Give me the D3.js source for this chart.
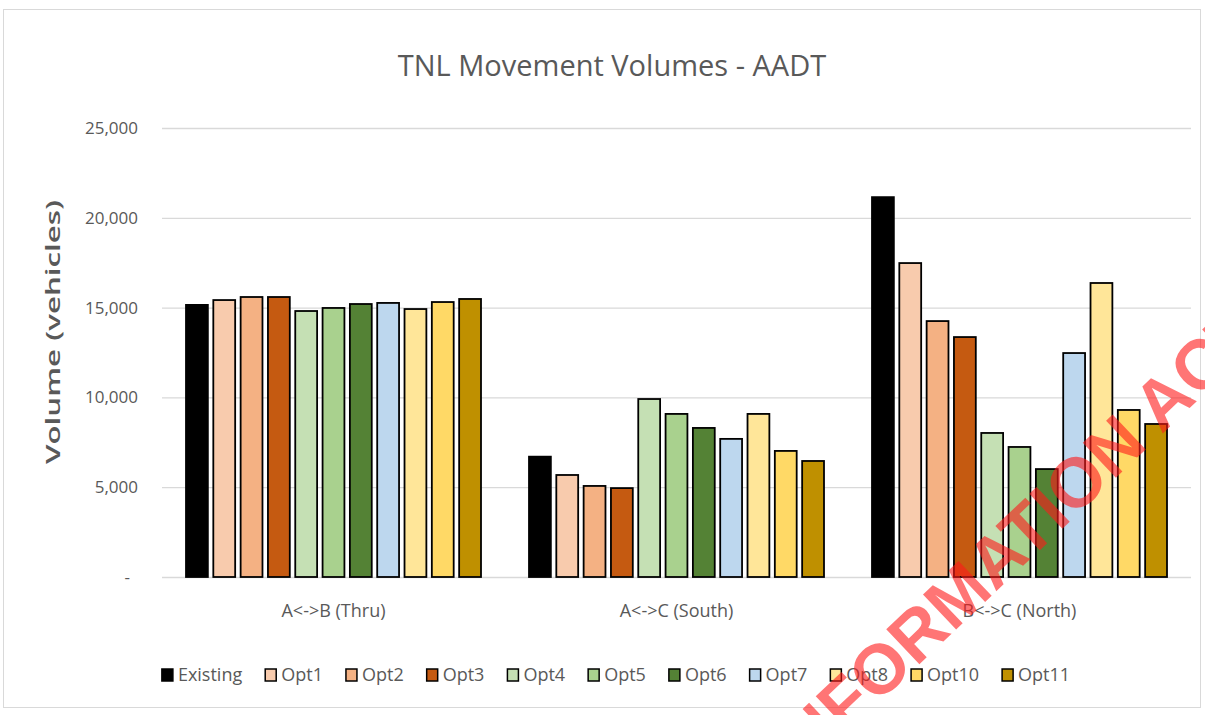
<!DOCTYPE html>
<html>
<head>
<meta charset="utf-8">
<script src="https://cdn.jsdelivr.net/npm/d3@7"></script>
<style>
  body { margin: 0; background: #fff; }
  text { font-family: "Open Sans", sans-serif; }
</style>
</head>
<body>
<svg id="chart" width="1205" height="715"></svg>
<script>
var categories = ["A<->B (Thru)", "A<->C (South)", "B<->C (North)"]
var seriesNames = ["Existing", "Opt1", "Opt2", "Opt3", "Opt4", "Opt5", "Opt6", "Opt7", "Opt8", "Opt10", "Opt11"]

// volumes per movement, in seriesNames order
var thruValues  = [15150, 15420, 15590, 15590, 14810, 14980, 15200, 15260, 14920, 15310, 15480]
var southValues = [6700, 5680, 5070, 4950, 9910, 9080, 8300, 7690, 9080, 7020, 6460]
var northValues = [21150, 17480, 14250, 13360, 8020, 7240, 6010, 12470, 16370, 9300, 8520]

var yTicks = [0, 5000, 10000, 15000, 20000, 25000]

var colors = ["#000000", "#f8cbad", "#f4b183", "#c55a11", "#c5e0b4", "#a9d18e",
              "#548235", "#bdd7ee", "#ffe699", "#ffd966", "#bf9000"]

var valuesByCategory = [thruValues, southValues, northValues]
var dataset = categories.map((c, i) => ({
  category: c,
  values: seriesNames.map((s, j) => ({ series: s, value: valuesByCategory[i][j] }))
}))

var dimensions = ({
  width: 1205,
  height: 715,
  margin: { top: 128, right: 14, bottom: 138, left: 162 }
})

var svg = d3.select("#chart")

// chart border
svg.append("rect")
  .attr("x", 3.5).attr("y", 9.5)
  .attr("width", 1197).attr("height", 698)
  .attr("fill", "#fff")
  .attr("stroke", "#d9d9d9")

var xScale = d3.scaleBand()
  .domain(categories)
  .range([dimensions.margin.left, dimensions.width - dimensions.margin.right])

var xInner = d3.scaleBand()
  .domain(seriesNames)
  .range([24, xScale.bandwidth() - 24])
  .paddingInner(0.2)

var yScale = d3.scaleLinear()
  .domain([0, 25000])
  .range([dimensions.height - dimensions.margin.bottom, dimensions.margin.top])

var colorScale = d3.scaleOrdinal().domain(seriesNames).range(colors)

// y axis with gridlines
var yAxisGen = d3.axisLeft(yScale)
  .tickValues(yTicks)
  .tickSize(-(dimensions.width - dimensions.margin.left - dimensions.margin.right))
  .tickPadding(24)
  .tickFormat(d => d === 0 ? "-" : d3.format(",")(d))

var yAxis = svg.append("g")
  .attr("transform", `translate(${dimensions.margin.left},0)`)
  .call(yAxisGen)
yAxis.select(".domain").remove()
yAxis.selectAll(".tick line").attr("stroke", "#d9d9d9").attr("stroke-width", 1.3)
yAxis.selectAll(".tick text")
  .attr("fill", "#595959")
  .style("font-size", "17px")
  .attr("dx", d => d === 0 ? -8 : 0)

// bars
var groups = svg.append("g")
  .selectAll("g")
  .data(dataset)
  .enter()
  .append("g")
  .attr("transform", d => `translate(${xScale(d.category)},0)`)

groups.selectAll("rect")
  .data(d => d.values)
  .enter()
  .append("rect")
  .attr("x", d => xInner(d.series))
  .attr("y", d => yScale(d.value))
  .attr("width", xInner.bandwidth())
  .attr("height", d => yScale(0) - yScale(d.value))
  .attr("fill", d => colorScale(d.series))
  .attr("stroke", "#000")
  .attr("stroke-width", 1.8)

// category axis
var xAxisGen = d3.axisBottom(xScale).tickSize(0).tickPadding(27)
var xAxis = svg.append("g")
  .attr("transform", `translate(0,${yScale(0)})`)
  .call(xAxisGen)
xAxis.select(".domain").remove()
xAxis.selectAll(".tick text")
  .attr("fill", "#595959")
  .style("font-size", "18px")

// title
svg.append("text")
  .attr("x", 612).attr("y", 76)
  .attr("text-anchor", "middle")
  .attr("fill", "#595959")
  .style("font-size", "29px")
  .text("TNL Movement Volumes - AADT")

// y axis title (stretched like the source image)
svg.append("text")
  .attr("transform", "translate(60,332) rotate(-90)")
  .attr("text-anchor", "middle")
  .attr("fill", "#595959")
  .attr("textLength", 264)
  .attr("lengthAdjust", "spacingAndGlyphs")
  .style("font-size", "20px")
  .style("font-weight", "600")
  .text("Volume (vehicles)")

// legend
var legend = svg.append("g")
var legendX = 0
var legendItems = legend.selectAll("g")
  .data(seriesNames)
  .enter()
  .append("g")

legendItems.append("rect")
  .attr("y", -6).attr("width", 11).attr("height", 12)
  .attr("fill", d => colorScale(d))
  .attr("stroke", "#000")
  .attr("stroke-width", 1.5)

legendItems.append("text")
  .attr("x", 16).attr("dy", "0.35em")
  .attr("fill", "#595959")
  .style("font-size", "18px")
  .text(d => d)

legendItems.each(function () {
  var w = this.querySelector("text").getComputedTextLength()
  d3.select(this).attr("transform", `translate(${legendX},0)`)
  legendX += 16 + w + 23
})
legendX -= 23
legend.attr("transform", `translate(${616 - legendX / 2},675)`)

// watermark
var mark = svg.append("text")
  .attr("fill", "#ff1a1a")
  .attr("opacity", 0.6)
  .style("font-family", "'Liberation Sans', Arial, sans-serif")
  .style("font-size", "70px")
  .style("font-weight", "bold")
  .text("INFORMATION ACT")
var node = mark.node()
var oCenter = node.getSubStringLength(0, 3) + node.getSubStringLength(3, 1) / 2
mark.attr("x", -oCenter).attr("dy", "0.36em")
  .attr("transform", "translate(879,668) rotate(-43.5)")
</script>
</body>
</html>
